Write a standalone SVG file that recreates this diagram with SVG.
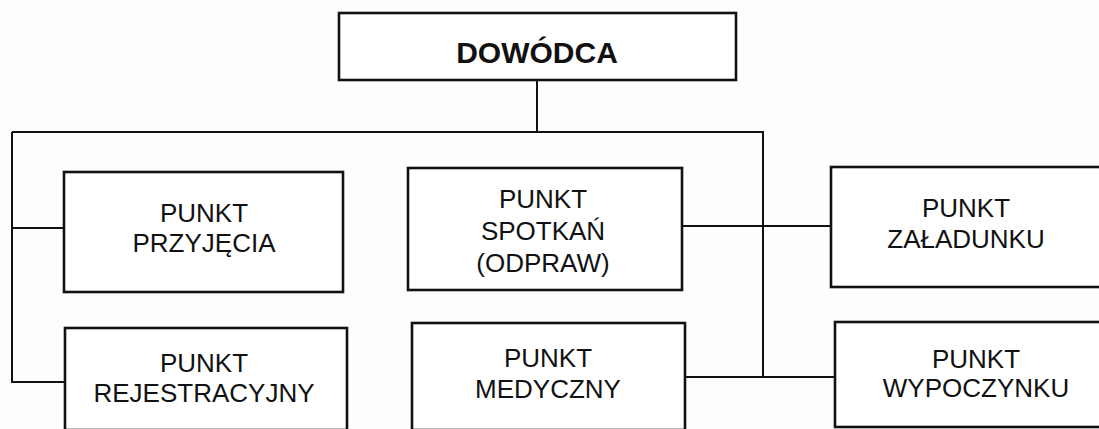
<svg xmlns="http://www.w3.org/2000/svg" width="1099" height="429" viewBox="0 0 1099 429">
  <style>
    .box { fill: #ffffff; stroke: #111111; stroke-width: 2.6; }
    .link { fill: none; stroke: #111111; stroke-width: 2; }
    .label { font-family: "Liberation Sans", Arial, sans-serif; font-size: 26px; fill: #111111; text-anchor: middle; }
    .title { font-family: "Liberation Sans", Arial, sans-serif; font-size: 30px; font-weight: bold; fill: #111111; text-anchor: middle; }
  </style>
  <rect x="0" y="0" width="1099" height="429" fill="#fdfdfd"/>

  <!-- connectors -->
  <g id="connectors">
    <path class="link" d="M537 80 V132"/>
    <path class="link" d="M12 132 H763 V377"/>
    <path class="link" d="M12 132 V382 H64"/>
    <path class="link" d="M12 228 H64"/>
    <path class="link" d="M682 226 H831"/>
    <path class="link" d="M685 377 H835"/>
  </g>

  <g id="dowodca">
    <rect class="box" x="339" y="13" width="397" height="67"/>
    <text class="title" x="537" y="63">DOWÓDCA</text>
  </g>

  <g id="punkt-przyjecia">
    <rect class="box" x="64" y="172" width="279" height="120"/>
    <text class="label" x="204" y="222">PUNKT</text>
    <text class="label" x="204" y="252">PRZYJĘCIA</text>
  </g>

  <g id="punkt-rejestracyjny">
    <rect class="box" x="65" y="328" width="282" height="102"/>
    <text class="label" x="204" y="372">PUNKT</text>
    <text class="label" x="204" y="402">REJESTRACYJNY</text>
  </g>

  <g id="punkt-spotkan">
    <rect class="box" x="408" y="168" width="274" height="122"/>
    <text class="label" x="543" y="208">PUNKT</text>
    <text class="label" x="543" y="240">SPOTKAŃ</text>
    <text class="label" x="543" y="272">(ODPRAW)</text>
  </g>

  <g id="punkt-medyczny">
    <rect class="box" x="412" y="323" width="273" height="107"/>
    <text class="label" x="548" y="367">PUNKT</text>
    <text class="label" x="548" y="398">MEDYCZNY</text>
  </g>

  <g id="punkt-zaladunku">
    <rect class="box" x="831" y="167" width="280" height="120"/>
    <text class="label" x="966" y="217">PUNKT</text>
    <text class="label" x="966" y="248">ZAŁADUNKU</text>
  </g>

  <g id="punkt-wypoczynku">
    <rect class="box" x="835" y="322" width="276" height="105"/>
    <text class="label" x="976" y="368">PUNKT</text>
    <text class="label" x="976" y="397">WYPOCZYNKU</text>
  </g>
</svg>
